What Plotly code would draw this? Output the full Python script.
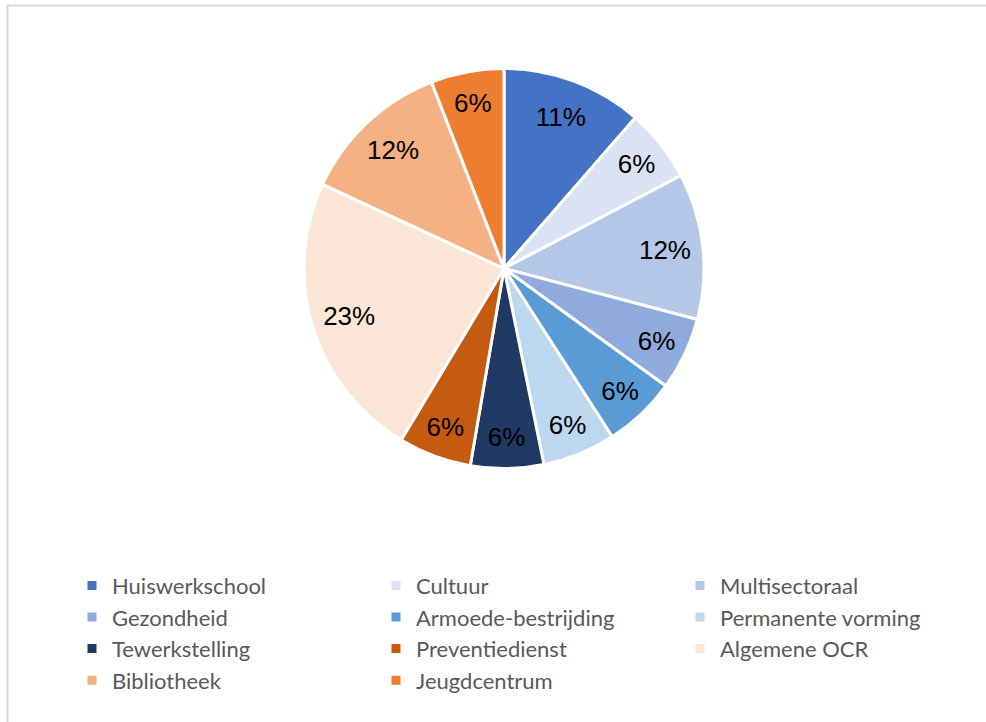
import plotly.graph_objects as go

categories = ["Huiswerkschool", "Cultuur", "Multisectoraal", "Gezondheid",
              "Armoede-bestrijding", "Permanente vorming", "Tewerkstelling",
              "Preventiedienst", "Algemene OCR", "Bibliotheek", "Jeugdcentrum"]
shares = [11.4, 5.9, 11.8, 5.9, 5.9, 5.9, 5.9, 5.9, 23.3, 12.2, 5.9]
colors = ["#4472C4", "#DAE3F3", "#B4C7E7", "#8FAADC", "#5B9BD5", "#BDD7EE",
          "#203864", "#C55A11", "#FBE5D6", "#F4B183", "#ED7D31"]

W, H = 986, 722
cx, cy, r = 504, 268.5, 200
dom_x = [(cx - r) / W, (cx + r) / W]
dom_y = [(H - cy - r) / H, (H - cy + r) / H]

fig = go.Figure()
fig.add_trace(go.Pie(
    labels=categories, values=shares, sort=False, direction="clockwise",
    rotation=0, marker=dict(colors=colors, line=dict(color="white", width=3)),
    textinfo="none", hoverinfo="label+percent",
    domain=dict(x=dom_x, y=dom_y),
))
fig.add_trace(go.Pie(
    labels=categories, values=shares, sort=False, direction="clockwise",
    rotation=0, hole=0.62, showlegend=False,
    marker=dict(colors=["rgba(0,0,0,0)"] * len(shares), line=dict(width=0)),
    texttemplate="%{percent:.0%}", textposition="inside",
    insidetextorientation="horizontal",
    textfont=dict(family="Liberation Sans, Arial", size=26, color="black"),
    hoverinfo="skip",
    domain=dict(x=dom_x, y=dom_y),
))

fig.update_layout(
    width=W, height=H,
    margin=dict(l=0, r=0, t=0, b=0, autoexpand=False),
    paper_bgcolor="white", plot_bgcolor="white",
    showlegend=True,
    legend=dict(
        orientation="h", x=72 / W, y=0.218, xanchor="left", yanchor="top",
        entrywidth=259, entrywidthmode="pixels",
        font=dict(family="Lato, Carlito, Calibri", size=22, color="#595959"),
        itemclick=False, bgcolor="rgba(0,0,0,0)",
    ),
    shapes=[dict(type="rect", xref="paper", yref="paper",
                 x0=7.5 / W, x1=1.02, y0=-0.02, y1=1 - 5.5 / H,
                 line=dict(color="#D9D9D9", width=2), fillcolor="rgba(0,0,0,0)")],
)

fig.write_html("out.html",
               config={"displayModeBar": False},
               post_script="document.body.style.margin='0';"
                           "document.body.style.overflow='hidden';")
